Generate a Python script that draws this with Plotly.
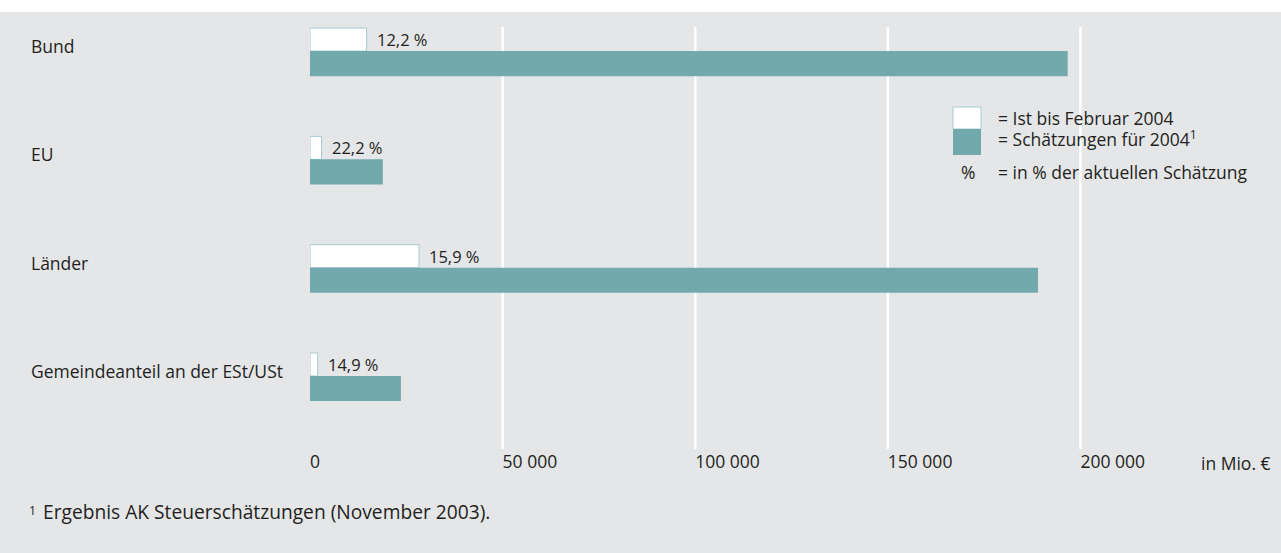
import plotly.graph_objects as go

# ---- data (Mio. €) ----
categories = ["Bund", "EU", "Länder", "Gemeindeanteil an der ESt/USt"]
ist_feb_2004 = [14700, 3000, 28300, 2000]          # Ist bis Februar 2004
schaetzung_2004 = [196700, 18900, 189000, 23600]    # Schätzungen für 2004
pct_labels = ["12,2 %", "22,2 %", "15,9 %", "14,9 %"]
tick_vals = [0, 50000, 100000, 150000, 200000]
tick_text = ["0", "50 000", "100 000", "150 000", "200 000"]
grid_vals = [50000, 100000, 150000, 200000]

BG = "#e5e6e8"
TEAL = "#71a9ad"
EDGE = "#a6cbcf"
TXT = "#231f20"
FONT = "Open Sans"
FS = 17.5

W, H = 1281, 553
L, R, T, B = 310, 8, 27, 104
PW, PH = W - L - R, H - T - B

def px(x):
    return (x - L) / PW

def py(y):
    return (H - B - y) / PH

ypos = list(range(len(categories)))

fig = go.Figure()
fig.add_trace(go.Bar(
    y=ypos, x=ist_feb_2004, orientation="h",
    width=0.212, offset=-0.212,
    marker=dict(color="white", line=dict(color=EDGE, width=1)),
    hoverinfo="skip", showlegend=False,
))
fig.add_trace(go.Bar(
    y=ypos, x=schaetzung_2004, orientation="h",
    width=0.232, offset=0,
    marker=dict(color=TEAL, line=dict(width=0)),
    hoverinfo="skip", showlegend=False,
))

shapes = []
# white strip at top
shapes.append(dict(type="rect", xref="paper", yref="paper",
                   x0=px(-5), x1=px(W + 5), y0=py(12), y1=py(-5),
                   fillcolor="white", line=dict(width=0), layer="below"))
for g in grid_vals:
    shapes.append(dict(type="line", xref="x", yref="paper", x0=g, x1=g, y0=0, y1=1,
                       line=dict(color="white", width=2.5), layer="below"))
# legend keys
shapes.append(dict(type="rect", xref="paper", yref="paper",
                   x0=px(953), x1=px(981), y0=py(129), y1=py(107),
                   fillcolor="white", line=dict(color=EDGE, width=1)))
shapes.append(dict(type="rect", xref="paper", yref="paper",
                   x0=px(953), x1=px(981), y0=py(155), y1=py(129),
                   fillcolor=TEAL, line=dict(width=0)))

ann = []
for i, c in enumerate(categories):
    ann.append(dict(text=c, xref="paper", yref="y", x=px(29), y=i, yshift=5,
                    xanchor="left", yanchor="middle", showarrow=False,
                    font=dict(family=FONT, size=FS, color=TXT)))
    ann.append(dict(text=pct_labels[i], xref="x", yref="y", x=ist_feb_2004[i],
                    y=i - 0.106, xshift=8, xanchor="left", yanchor="middle",
                    showarrow=False, font=dict(family=FONT, size=16.5, color=TXT)))

leg = [("= Ist bis Februar 2004", 118), ("= Schätzungen für 2004<sup>1</sup>", 138),
       ("= in % der aktuellen Schätzung", 172)]
for t, yy in leg:
    ann.append(dict(text=t, xref="paper", yref="paper", x=px(996), y=py(yy),
                    xanchor="left", yanchor="middle", showarrow=False,
                    font=dict(family=FONT, size=FS, color=TXT)))
ann.append(dict(text="%", xref="paper", yref="paper", x=px(968), y=py(172),
                xanchor="center", yanchor="middle", showarrow=False,
                font=dict(family=FONT, size=FS, color=TXT)))
ann.append(dict(text="in Mio. €", xref="paper", yref="paper", x=px(1199), y=py(463),
                xanchor="left", yanchor="middle", showarrow=False,
                font=dict(family=FONT, size=FS, color=TXT)))
ann.append(dict(text="<sup>1</sup>", xref="paper", yref="paper", x=px(27), y=py(510),
                xanchor="left", yanchor="middle", showarrow=False,
                font=dict(family=FONT, size=FS, color=TXT)))
ann.append(dict(text="Ergebnis AK Steuerschätzungen (November 2003).", xref="paper", yref="paper",
                x=px(41), y=py(512), xanchor="left", yanchor="middle", showarrow=False,
                font=dict(family=FONT, size=19.2, color=TXT)))

fig.update_layout(
    width=W, height=H,
    margin=dict(l=L, r=R, t=T, b=B, pad=0),
    paper_bgcolor=BG, plot_bgcolor=BG,
    barmode="overlay",
    shapes=shapes, annotations=ann,
    xaxis=dict(range=[0, 250000], tickvals=tick_vals, ticktext=tick_text,
               showgrid=False, zeroline=False, showline=False, ticks="",
               ticklabelposition="outside right",
               tickfont=dict(family=FONT, size=FS, color=TXT)),
    yaxis=dict(range=[3.674, -0.222], showticklabels=False, showgrid=False,
               zeroline=False, showline=False),
)

fig.write_html("out.html", config={"displayModeBar": False},
               post_script="document.body.style.margin='0';document.body.style.overflow='hidden';")
